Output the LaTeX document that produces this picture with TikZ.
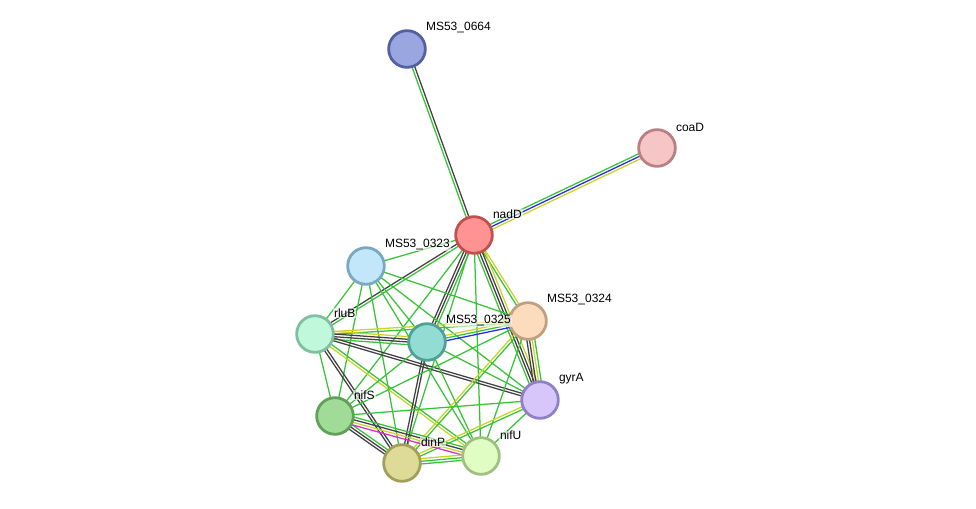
\documentclass[tikz,border=0pt]{standalone}
\usepackage{fontspec}
\setmainfont{Liberation Sans}
\usetikzlibrary{calc}
\pgfdeclarelayer{bg}
\pgfsetlayers{bg,main}
\definecolor{eg}{RGB}{55,195,55}
\definecolor{ek}{RGB}{65,65,65}
\definecolor{ey}{RGB}{200,212,40}
\definecolor{eb}{RGB}{40,40,235}
\definecolor{em}{RGB}{220,40,220}
\tikzset{
  prot/.style={circle, minimum size=27.5pt, inner sep=0pt, line width=2.1pt},
  lbl/.style={anchor=west, font=\fontsize{9pt}{10pt}\selectfont, inner sep=0.6pt, fill=white, fill opacity=0.6, text opacity=1},
  eline/.style={line width=0.95pt}
}
\newcommand\lnk[3]{%
  \foreach \c [count=\i] in {#3} {\xdef\ncount{\i}}%
  \foreach \c [count=\i] in {#3} {%
    \pgfmathsetmacro\off{(\i-(\ncount+1)/2)*2.0}%
    \draw[eline, \c] ($(#1.center)!\off pt!90:(#2.center)$) -- ($(#2.center)!\off pt!-90:(#1.center)$);
  }}
\begin{document}
\begin{tikzpicture}[x=0.75pt, y=-0.75pt]
\useasboundingbox (0,0) rectangle (976,509);
% nodes
\node[prot, fill={rgb,255:red,154;green,166;blue,224}, draw={rgb,255:red,85;green,96;blue,160}] (n0664) at (407,49) {};
\node[prot, fill={rgb,255:red,246;green,198;blue,198}, draw={rgb,255:red,184;green,128;blue,128}] (coaD) at (657,148) {};
\node[prot, fill={rgb,255:red,255;green,146;blue,146}, draw={rgb,255:red,192;green,80;blue,80}] (nadD) at (474,235) {};
\node[prot, fill={rgb,255:red,194;green,230;blue,250}, draw={rgb,255:red,122;green,168;blue,192}] (n0323) at (366,266) {};
\node[prot, fill={rgb,255:red,253;green,220;blue,190}, draw={rgb,255:red,192;green,160;blue,128}] (n0324) at (528,321) {};
\node[prot, fill={rgb,255:red,192;green,248;blue,220}, draw={rgb,255:red,128;green,192;blue,160}] (rluB) at (315,334) {};
\node[prot, fill={rgb,255:red,146;green,220;blue,212}, draw={rgb,255:red,80;green,160;blue,152}] (n0325) at (427,342) {};
\node[prot, fill={rgb,255:red,214;green,198;blue,250}, draw={rgb,255:red,144;green,128;blue,200}] (gyrA) at (540,400) {};
\node[prot, fill={rgb,255:red,160;green,220;blue,152}, draw={rgb,255:red,96;green,160;blue,88}] (nifS) at (335,416) {};
\node[prot, fill={rgb,255:red,222;green,218;blue,152}, draw={rgb,255:red,160;green,160;blue,88}] (dinP) at (402,463) {};
\node[prot, fill={rgb,255:red,224;green,254;blue,196}, draw={rgb,255:red,160;green,192;blue,128}] (nifU) at (481,456) {};
% edges
\begin{pgfonlayer}{bg}
\lnk{n0664}{nadD}{eg,ek}
\lnk{nadD}{coaD}{ey,eb,eg}
\lnk{nadD}{n0323}{eg}
\lnk{nadD}{rluB}{ek,eg}
\lnk{nadD}{n0325}{ek,ek,eg}
\lnk{nadD}{n0324}{eg,ey}
\lnk{nadD}{gyrA}{eg,ek,ek,ey}
\lnk{nadD}{nifS}{eg}
\lnk{nadD}{dinP}{eg}
\lnk{nadD}{nifU}{eg}
\lnk{n0323}{n0324}{eg}
\lnk{n0323}{rluB}{eg}
\lnk{n0323}{n0325}{eg}
\lnk{n0323}{gyrA}{eg}
\lnk{n0323}{nifS}{eg}
\lnk{n0323}{dinP}{eg}
\lnk{n0323}{nifU}{eg}
\lnk{rluB}{n0324}{eg,ey}
\lnk{rluB}{n0325}{eg,ek,ek,ey}
\lnk{rluB}{gyrA}{ek,ek}
\lnk{rluB}{nifS}{eg}
\lnk{rluB}{dinP}{ek,ek}
\lnk{rluB}{nifU}{ey,eg}
\lnk{n0325}{n0324}{eb,eg,ey}
\lnk{n0325}{gyrA}{eg}
\lnk{n0325}{nifS}{eg}
\lnk{n0325}{dinP}{ek,ek}
\lnk{n0325}{nifU}{eg}
\lnk{n0324}{gyrA}{ek,ek,ey,eg}
\lnk{n0324}{nifS}{eg}
\lnk{n0324}{dinP}{ey,eg}
\lnk{n0324}{nifU}{eg}
\lnk{gyrA}{nifS}{eg}
\lnk{gyrA}{dinP}{ey,eg}
\lnk{gyrA}{nifU}{eg}
\lnk{nifS}{dinP}{ek,ek,eg}
\lnk{nifS}{nifU}{em,ey,ek,eg}
\lnk{dinP}{nifU}{eg,eg,ey}
\end{pgfonlayer}
% labels
\node[lbl] (l0664) at (425,28) {MS53\_0664};
\node[lbl] (lcoaD) at (675,127) {coaD};
\node[lbl] (lnadD) at (492,214) {nadD};
\node[lbl] (l0323) at (384,245) {MS53\_0323};
\node[lbl] (l0324) at (546,300) {MS53\_0324};
\node[lbl] (lrluB) at (333,313) {rluB};
\node[lbl] (l0325) at (445,321) {MS53\_0325};
\node[lbl] (lgyrA) at (558,379) {gyrA};
\node[lbl] (lnifS) at (353,395) {nifS};
\node[lbl] (ldinP) at (420,442) {dinP};
\node[lbl] (lnifU) at (499,435) {nifU};
\end{tikzpicture}
\end{document}
